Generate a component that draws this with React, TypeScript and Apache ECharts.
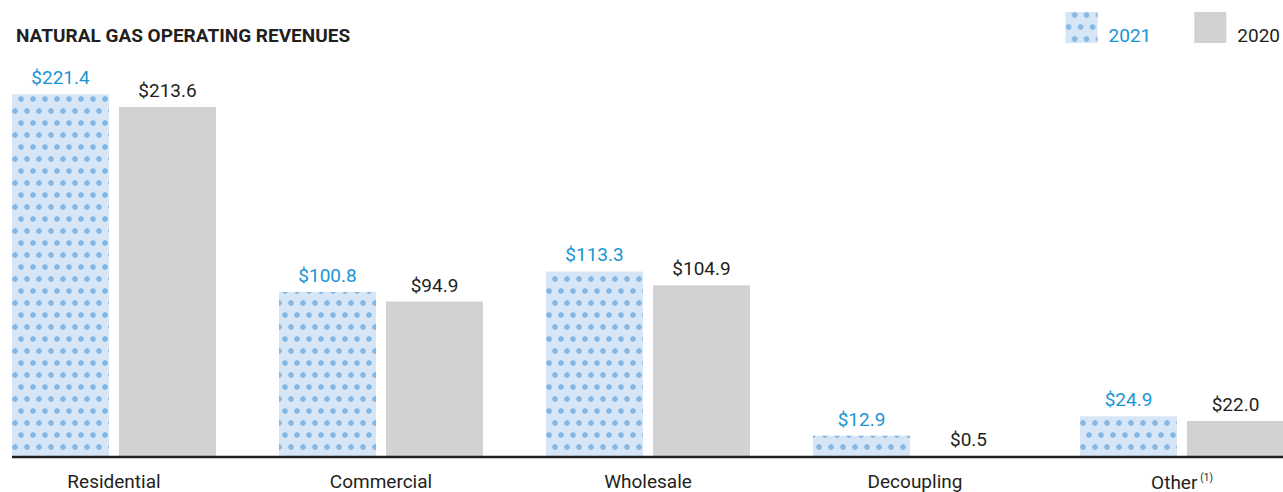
import React, { useEffect, useRef } from "react";
import * as echarts from "echarts";

const categories = ["Residential", "Commercial", "Wholesale", "Decoupling", "Other"];
const values2021 = [221.4, 100.8, 113.3, 12.9, 24.9];
const values2020 = [213.6, 94.9, 104.9, 0.5, 22.0];
const seriesNames = ["2021", "2020"];
const titleText = "NATURAL GAS OPERATING REVENUES";

const FONT = "Roboto, 'Liberation Sans', sans-serif";
const BLUE_TEXT = "#1a95d4";
const DARK = "#231f20";
const GRAY = "#d1d2d4";
const LIGHT_BLUE = "#d6e6f6";
const DOT = "#86b8e6";

export default function App() {
  const ref = useRef<HTMLDivElement>(null);
  useEffect(() => {
    document.body.style.margin = "0";
    const chart = echarts.init(ref.current!, null, { renderer: "svg" });
    const decal = {
      symbol: "circle",
      symbolSize: 0.95,
      color: DOT,
      dashArrayX: [[5.8, 5.8], [0, 5.8, 5.8, 0]],
      dashArrayY: [5.7, 5.7],
    };
    const labelBase = {
      show: true,
      position: "top",
      distance: 7,
      fontFamily: FONT,
      fontSize: 19,
      formatter: (p: any) => "$" + Number(p.value).toFixed(1),
    };
    chart.setOption({
      animation: false,
      title: {
        text: titleText,
        left: 11,
        top: 21,
        textStyle: { fontFamily: FONT, fontSize: 19, fontWeight: "bold", color: DARK },
      },
      legend: {
        right: 3,
        top: 12,
        padding: 0,
        itemWidth: 32,
        itemHeight: 31,
        itemGap: 43,
        icon: "rect",
        data: [seriesNames[0], seriesNames[1]],
        formatter: (name: string) => (name === seriesNames[0] ? "{b|" + name + "}" : "{d|" + name + "}"),
        textStyle: {
          fontFamily: FONT,
          fontSize: 19,
          rich: {
            b: { fontFamily: FONT, fontSize: 19, color: BLUE_TEXT, padding: [15, 0, 0, 6] },
            d: { fontFamily: FONT, fontSize: 19, color: DARK, padding: [15, 0, 0, 6] },
          },
        },
      },
      grid: { left: -19.5, width: 1335, top: 0, bottom: 35, outerBoundsMode: "none", containLabel: false },
      xAxis: {
        type: "category",
        data: categories,
        axisLine: { show: false },
        axisTick: { show: false },
        axisLabel: {
          margin: 15,
          fontFamily: FONT,
          fontSize: 19,
          color: DARK,
          formatter: (v: string) => (v === "Other" ? "{a|Other}{s|(1)}" : v),
          rich: {
            a: { fontFamily: FONT, fontSize: 19, color: DARK },
            s: { fontFamily: FONT, fontSize: 10, color: DARK, verticalAlign: "top", padding: [0, 0, 10, 3] },
          },
        },
      },
      yAxis: { type: "value", min: 0, max: 279, show: false, splitLine: { show: false } },
      series: [
        {
          name: seriesNames[0],
          type: "bar",
          data: values2021,
          barWidth: 97,
          barGap: "10.3%",
          itemStyle: { color: LIGHT_BLUE, decal },
          label: { ...labelBase, color: BLUE_TEXT },
        },
        {
          name: seriesNames[1],
          type: "bar",
          data: values2020,
          barWidth: 97,
          itemStyle: { color: GRAY },
          label: { ...labelBase, color: DARK },
        },
      ],
      graphic: [
        {
          type: "line",
          shape: { x1: 12, y1: 457, x2: 1283, y2: 457 },
          style: { stroke: DARK, lineWidth: 2.5 },
          z: 10,
        },
      ],
    });
    return () => chart.dispose();
  }, []);
  return <div ref={ref} style={{ position: "absolute", left: 0, top: 0, width: 1283, height: 492 }} />;
}
